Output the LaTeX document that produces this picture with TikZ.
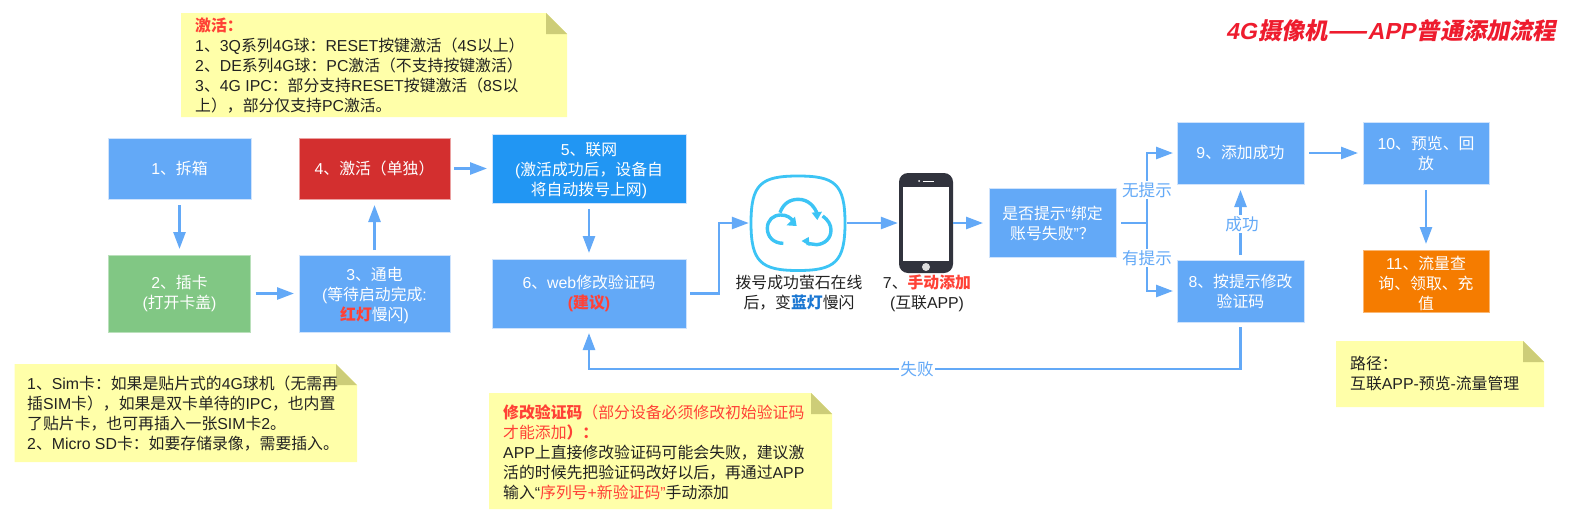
\documentclass[tikz,border=0pt]{standalone}
\usepackage{fontspec}
\usetikzlibrary{arrows.meta}
\setmainfont{Noto Sans CJK SC}
\newfontfamily\latf{Liberation Sans}
\newfontfamily\ttlf[FakeSlant=0.2]{Noto Sans CJK SC}
\newfontfamily\ttllat[FakeSlant=0.2]{Liberation Sans}
\definecolor{bxblue}{HTML}{63A9F7}
\definecolor{bxedge}{HTML}{CFE3FC}
\definecolor{bxgreen}{HTML}{81C784}
\definecolor{bxred}{HTML}{D32F2F}
\definecolor{bxdeep}{HTML}{2196F3}
\definecolor{bxorange}{HTML}{F57C00}
\definecolor{notefill}{HTML}{FFFFA9}
\definecolor{notefold}{HTML}{CDCD78}
\definecolor{redt}{HTML}{FF4136}
\definecolor{bluet}{HTML}{1976D2}
\definecolor{ink}{HTML}{222222}
\definecolor{cloudc}{HTML}{3CC4F5}
\definecolor{phonec}{HTML}{31333D}
\definecolor{titlec}{HTML}{EE1C2E}
\newcommand\lat[1]{{\latf #1}}
\newcommand\rd[1]{\textcolor{redt}{#1}}
\newcommand\topstrut{\rule{0pt}{18pt}}
\tikzset{
  basefont/.style={font=\fontsize{15.85}{20}\selectfont},
  boxn/.style 2 args={basefont,rectangle,inner sep=0pt,outer sep=0pt,align=center,text=white,
    minimum width=#1,minimum height=#2,line width=1pt},
  bluebox/.style={fill=bxblue,draw=bxedge},
  greenbox/.style={fill=bxgreen,draw=bxgreen!55!white},
  redbox/.style={fill=bxred,draw=bxred!45!white},
  deepbox/.style={fill=bxdeep,draw=bxedge},
  orangebox/.style={fill=bxorange,draw=bxorange!55!white},
  notetext/.style={basefont,anchor=west,align=left,text=ink,inner sep=0pt},
  capt/.style={basefont,align=center,text=ink,inner sep=0pt},
  lineonly/.style={draw=bxblue,line width=2.6pt},
  arr/.style={lineonly,-{Triangle[length=17pt,width=12pt]}},
  lbl/.style={font=\fontsize{16.6}{20}\selectfont,text=bxblue,fill=white,inner sep=1.5pt},
  notefold/.style={fill=notefold},
  notebody/.style={fill=notefill}
}
\begin{document}
\begin{tikzpicture}[x=1pt,y=-1pt]
\useasboundingbox (0,0) rectangle (1580,520);
\fill[white] (0,0) rectangle (1580,520);

% sticky notes
\fill[notebody] (181,13) -- (546,13) -- (567,34) -- (567,117) -- (181,117) -- cycle;
\fill[notefold] (546,13) -- (567,34) -- (546,34) -- cycle;
\fill[notebody] (14.5,364) -- (336,364) -- (357,385) -- (357,462) -- (14.5,462) -- cycle;
\fill[notefold] (336,364) -- (357,385) -- (336,385) -- cycle;
\fill[notebody] (489,393) -- (811,393) -- (832,414) -- (832,509) -- (489,509) -- cycle;
\fill[notefold] (811,393) -- (832,414) -- (811,414) -- cycle;
\fill[notebody] (1336,341) -- (1523,341) -- (1544,362) -- (1544,407) -- (1336,407) -- cycle;
\fill[notefold] (1523,341) -- (1544,362) -- (1523,362) -- cycle;

\node[notetext] (n1) at (195,65.5) {\rd{\bfseries 激活：}\\
\lat{1}、\lat{3Q}系列\lat{4G}球：\lat{RESET}按键激活（\lat{4S}以上）\\
\lat{2}、\lat{DE}系列\lat{4G}球：\lat{PC}激活（不支持按键激活）\\
\lat{3}、\lat{4G IPC}：部分支持\lat{RESET}按键激活（\lat{8S}以\\
上），部分仅支持\lat{PC}激活。};
\node[notetext] (n2) at (27,414) {\lat{1}、\lat{Sim}卡：如果是贴片式的\lat{4G}球机（无需再\\
插\lat{SIM}卡），如果是双卡单待的\lat{IPC}，也内置\\
了贴片卡，也可再插入一张\lat{SIM}卡\lat{2}。\\
\lat{2}、\lat{Micro SD}卡：如要存储录像，需要插入。};
\node[notetext] (n3) at (503,452) {\rd{{\bfseries 修改验证码}（部分设备必须修改初始验证码}\\
\rd{才能添加{\bfseries ）：}}\\
\lat{APP}上直接修改验证码可能会失败，建议激\\
活的时候先把验证码改好以后，再通过\lat{APP}\\
输入\lat{“}\rd{序列号\lat{+}新验证码\lat{”}}手动添加};
\node[notetext] (n4) at (1350,374) {路径：\\互联\lat{APP-}预览\lat{-}流量管理};

% boxes
\node[boxn={143}{61},bluebox] (b1) at (179.5,168.5) {\lat{1}、拆箱};
\node[boxn={142}{77},greenbox] (b2) at (179.5,293.5) {\lat{2}、插卡\\\lat{(}打开卡盖\lat{)}};
\node[boxn={151}{77},bluebox] (b3) at (374.5,293.5) {\topstrut\lat{3}、通电\\\lat{(}等待启动完成\lat{:}\\\rd{\bfseries 红灯}慢闪\lat{)}};
\node[boxn={151}{61},redbox] (b4) at (374.5,168.5) {\lat{4}、激活（单独）};
\node[boxn={194}{69},deepbox] (b5) at (589,168.5) {\topstrut\lat{5}、联网\\\lat{(}激活成功后，设备自\\将自动拨号上网\lat{)}};
\node[boxn={194}{69},bluebox] (b6) at (589,293.5) {\lat{6}、\lat{web}修改验证码\\\rd{\bfseries\lat{(}建议\lat{)}}};
\node[boxn={127}{69},bluebox] (dec) at (1052.5,223) {是否提示\lat{“}绑定\\账号失败\lat{”}？};
\node[boxn={127}{62},bluebox] (b8) at (1240.5,291) {\lat{8}、按提示修改\\验证码};
\node[boxn={127}{62},bluebox] (b9) at (1240.5,153) {\lat{9}、添加成功};
\node[boxn={126}{62},bluebox] (b10) at (1426,153) {\lat{10}、预览、回\\放};
\node[boxn={126}{62},orangebox] (b11) at (1426,281) {\topstrut\lat{11}、流量查\\询、领取、充\\值};

% cloud icon
\node[inner sep=0pt,minimum width=94pt,minimum height=96pt] (cloud) at (798,223) {};
\draw[cloudc,line width=2.8pt]
  (798,176) .. controls (835,176) and (845,184) .. (845,223)
  .. controls (845,262) and (835,270.5) .. (798,270.5)
  .. controls (761,270.5) and (751,262) .. (751,223)
  .. controls (751,184) and (761,176) .. (798,176) -- cycle;
\begin{scope}[shift={(730,160)},x=0.3333pt,y=-0.3333pt]
  \draw[cloudc,line width=3.4pt]
    (160,250) .. controls (130,250) and (112,230) .. (112,205)
    .. controls (112,180) and (130,165) .. (152,165)
    .. controls (170,165) and (182,172) .. (190,185);
  \fill[cloudc] (200,198) -- (170,196) -- (195,170) -- cycle;
  \draw[cloudc,line width=3.4pt]
    (150,158) .. controls (160,130) and (180,118) .. (205,118)
    .. controls (235,118) and (255,140) .. (263,165);
  \fill[cloudc] (262,180) -- (245,158) -- (276,155) -- cycle;
  \draw[cloudc,line width=3.4pt]
    (278,168) .. controls (295,180) and (303,195) .. (303,210)
    .. controls (303,235) and (285,252) .. (260,254) -- (230,250);
  \fill[cloudc] (215,243) -- (236,231) -- (239,258) -- cycle;
\end{scope}

% phone icon
\node[rectangle,fill=phonec,rounded corners=9pt,inner sep=0pt,minimum width=54pt,minimum height=100pt] (phone) at (926,223) {};
\node[rectangle,fill=white,inner sep=0pt,minimum width=46pt,minimum height=74pt] (screen) at (926,224) {};
\node[circle,fill=black!13,inner sep=0pt,minimum size=8pt] (btn) at (926,267) {};
\node[circle,fill=white,inner sep=0pt,minimum size=2pt] (cam) at (919,181) {};
\coordinate (spa) at (923,181);
\coordinate (spb) at (934,181);
\draw[white,line width=0.8pt] (spa) -- (spb);

% captions
\node[capt] (c1) at (799,293) {拨号成功萤石在线\\后，变{\bfseries\textcolor{bluet}{蓝灯}}慢闪};
\node[capt] (c2) at (927,293) {\lat{7}、\rd{\bfseries 手动添加}\\\lat{(}互联\lat{APP)}};

% title
\node[inner sep=0pt,text=titlec,font=\fontsize{23.2}{26}\selectfont\bfseries] (ttl) at (1391,31)
  {{\ttllat 4G\kern1.5pt}{\ttlf 摄像机——}{\ttllat APP\kern1.5pt}{\ttlf 普通添加流程}};

% junctions
\coordinate (j6a) at (719,293.5);
\coordinate (j6b) at (719,223);
\coordinate (bj) at (1147,223);
\coordinate (j8a) at (1240.5,369);
\coordinate (j8b) at (589,369);

% connectors
\draw[arr,shorten <=6pt,shorten >=6pt] (b1.south) -- (b2.north);
\draw[arr,shorten <=5pt,shorten >=5pt] (b2.east) -- (b3.west);
\draw[arr,shorten <=5pt,shorten >=6pt] (b3.north) -- (b4.south);
\draw[arr,shorten <=4pt,shorten >=5pt] (b4.east) -- (b5.west);
\draw[arr,shorten <=6pt,shorten >=6pt] (b5.south) -- (b6.north);
\draw[arr,shorten <=4pt,shorten >=2pt] (b6.east) -- (j6a) -- (j6b) -- (cloud.west);
\draw[arr,shorten <=2pt,shorten >=1pt] (cloud.east) -- (phone.west);
\draw[arr,shorten >=6pt] (phone.east) -- (dec.west);
\draw[lineonly,shorten <=5pt] (dec.east) -- (bj);
\draw[arr,shorten >=4pt] (bj) |- (b9.west);
\draw[arr,shorten >=4pt] (bj) |- (b8.west);
\draw[arr,shorten <=5pt,shorten >=6pt] (b8.north) -- (b9.south);
\draw[arr,shorten <=5pt,shorten >=5pt] (b9.east) -- (b10.west);
\draw[arr,shorten <=6pt,shorten >=6pt] (b10.south) -- (b11.north);
\draw[arr,shorten <=5pt,shorten >=5pt] (b8.south) -- (j8a) -- (j8b) -- (b6.south);

% connector labels
\node[lbl] (l1) at (1147,190) {无提示};
\node[lbl] (l2) at (1147,258) {有提示};
\node[lbl] (l3) at (1242,224) {成功};
\node[lbl] (l4) at (917,369) {失败};
\end{tikzpicture}
\end{document}
